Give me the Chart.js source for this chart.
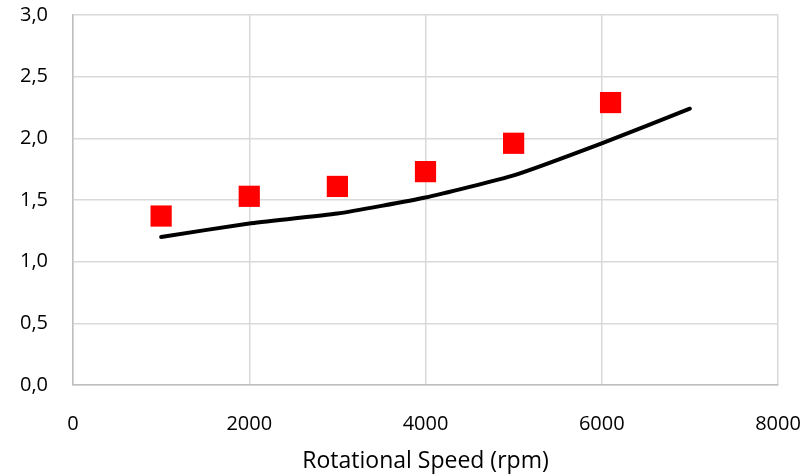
<!DOCTYPE html>
<html>
<head>
<meta charset="utf-8">
<script src="https://cdn.jsdelivr.net/npm/chart.js@4"></script>
<style>
  html, body { margin: 0; padding: 0; background: #fff; }
  #wrap { width: 807px; height: 476px; }
</style>
</head>
<body>
<div id="wrap"><canvas id="myChart"></canvas></div>
<script>
// data
const lineSpeeds = [1000, 2000, 3000, 4000, 5000, 6000, 7000]
const lineValues = [1.20, 1.31, 1.39, 1.52, 1.70, 1.96, 2.24]
const pointSpeeds = [1000, 2000, 3000, 4000, 5000, 6100]
const pointValues = [1.37, 1.53, 1.61, 1.73, 1.96, 2.29]
const xTitle = 'Rotational Speed (rpm)'

const toXY = (xs, ys) => xs.map((x, i) => ({x: x, y: ys[i]}))

Chart.defaults.font.family = "'Open Sans', sans-serif"
Chart.defaults.color = '#000'

let ctx = document.getElementById('myChart').getContext('2d')

let chart = new Chart(ctx, {
    type: 'scatter',
    data: {
        datasets: [{
            type: 'line',
            label: 'line',
            data: toXY(lineSpeeds, lineValues),
            borderColor: '#000',
            borderWidth: 4,
            borderCapStyle: 'round',
            tension: 0.15,
            pointRadius: 0,
            showLine: true,
            order: 2
        },
        {
            label: 'points',
            data: toXY(pointSpeeds, pointValues),
            backgroundColor: '#ff0000',
            borderColor: '#ff0000',
            borderWidth: 0,
            pointStyle: 'rect',
            pointRadius: 15,
            order: 1
        }]
    },
    options: {
        responsive: true,
        maintainAspectRatio: false,
        animation: false,
        layout: {autoPadding: false, padding: {top: 15, right: 29, left: 0, bottom: 0}},
        scales: {
            x: {
                type: 'linear',
                min: 0,
                max: 8000,
                ticks: {
                    stepSize: 2000,
                    padding: 27,
                    font: {size: 20},
                    callback: v => String(v)
                },
                grid: {color: '#d9d9d9', lineWidth: 1.5, drawTicks: false},
                border: {color: '#bfbfbf', width: 1.5},
                title: {display: true, text: xTitle, font: {size: 23}, padding: {top: 3, bottom: 1}},
                // keep tick padding from shrinking the plot area
                afterFit: s => {
                    s.height = 91
                    s.paddingLeft = 0
                    s.paddingRight = 0
                }
            },
            y: {
                min: 0,
                max: 3,
                ticks: {
                    stepSize: 0.5,
                    padding: 25,
                    font: {size: 20},
                    callback: v => v.toFixed(1).replace('.', ',')
                },
                grid: {color: '#d9d9d9', lineWidth: 1.5, drawTicks: false},
                border: {color: '#bfbfbf', width: 1.5},
                afterFit: s => {
                    s.width = 73
                    s.paddingTop = 0
                    s.paddingBottom = 0
                }
            }
        },
        plugins: {
            legend: {display: false},
            tooltip: {enabled: false}
        }
    }
})
</script>
</body>
</html>
